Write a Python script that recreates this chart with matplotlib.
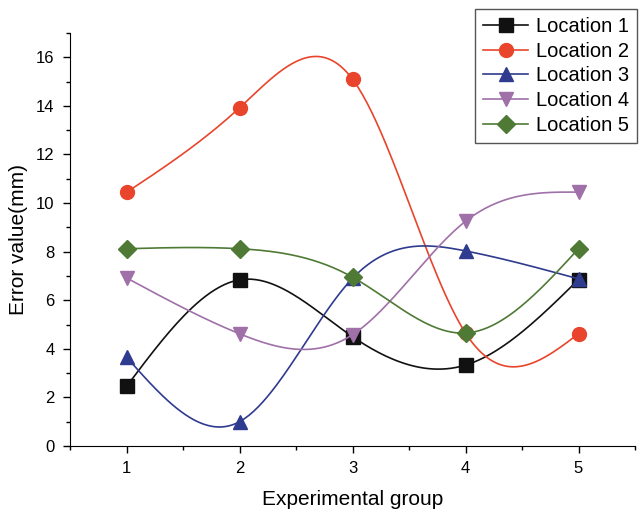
import numpy as np
import matplotlib
matplotlib.use("Agg")
import matplotlib.pyplot as plt
from matplotlib.ticker import MultipleLocator

plt.rcParams["font.family"] = ["Liberation Sans", "DejaVu Sans"]

groups = [1, 2, 3, 4, 5]
loc1 = [2.45, 6.84, 4.5, 3.33, 6.85]
loc2 = [10.44, 13.92, 15.1, 4.65, 4.62]
loc3 = [3.66, 1.0, 6.9, 8.03, 6.88]
loc4 = [6.92, 4.62, 4.58, 9.25, 10.45]
loc5 = [8.12, 8.12, 6.95, 4.65, 8.12]
names = ["Location 1", "Location 2", "Location 3", "Location 4", "Location 5"]
colors = ["#111111", "#e8452c", "#2f3b8e", "#a070a8", "#4f7a35"]
markers = ["s", "o", "^", "v", "D"]


def natural_spline(x, y, n=200):
    """Natural cubic spline through the points, sampled n times."""
    x = np.asarray(x, float)
    y = np.asarray(y, float)
    k = len(x)
    h = np.diff(x)
    A = np.zeros((k, k))
    b = np.zeros(k)
    A[0, 0] = A[-1, -1] = 1.0
    for i in range(1, k - 1):
        A[i, i - 1] = h[i - 1]
        A[i, i] = 2 * (h[i - 1] + h[i])
        A[i, i + 1] = h[i]
        b[i] = 3 * ((y[i + 1] - y[i]) / h[i] - (y[i] - y[i - 1]) / h[i - 1])
    c = np.linalg.solve(A, b)
    xs = np.linspace(x[0], x[-1], n)
    idx = np.clip(np.searchsorted(x, xs) - 1, 0, k - 2)
    dx = xs - x[idx]
    hi = h[idx]
    bb = (y[idx + 1] - y[idx]) / hi - hi * (2 * c[idx] + c[idx + 1]) / 3
    dd = (c[idx + 1] - c[idx]) / (3 * hi)
    ys = y[idx] + bb * dx + c[idx] * dx ** 2 + dd * dx ** 3
    return xs, ys


fig = plt.figure(figsize=(6.39, 5.12), dpi=100)
ax = fig.add_axes([70 / 639, 66 / 512, 565 / 639, 413 / 512])

for vals, name, col, mk in zip([loc1, loc2, loc3, loc4, loc5], names, colors, markers):
    xs, ys = natural_spline(groups, vals)
    ax.plot(xs, ys, color=col, linewidth=1.2)
    ms = 10 if mk != "D" else 9
    ax.plot(groups, vals, linestyle="none", marker=mk, color=col, markersize=ms)
    ax.plot([], [], color=col, linewidth=1.2, marker=mk, markersize=ms, label=name)

ax.set_xlim(0.5, 5.5)
ax.set_ylim(0, 17)
ax.set_xticks(groups)
ax.xaxis.set_minor_locator(MultipleLocator(0.5))
ax.yaxis.set_major_locator(MultipleLocator(2))
ax.yaxis.set_minor_locator(MultipleLocator(1))
ax.spines["top"].set_visible(False)
ax.spines["right"].set_visible(False)
ax.tick_params(which="both", direction="out", width=1, labelsize=12)
ax.tick_params(which="major", length=5, pad=6)
ax.tick_params(which="minor", length=3)
ax.set_xlabel("Experimental group", fontsize=15, labelpad=10)
ax.set_ylabel("Error value(mm)", fontsize=15, labelpad=6)

leg = fig.legend(loc="upper right", bbox_to_anchor=(637 / 639, 1 - 9 / 512),
                 numpoints=1, fontsize=14.5, fancybox=False, framealpha=1,
                 edgecolor="#555555", borderaxespad=0, handlelength=2.2,
                 labelspacing=0.28, handletextpad=0.4, borderpad=0.4)
leg.get_frame().set_linewidth(1)

fig.savefig("out.png", dpi=100)
